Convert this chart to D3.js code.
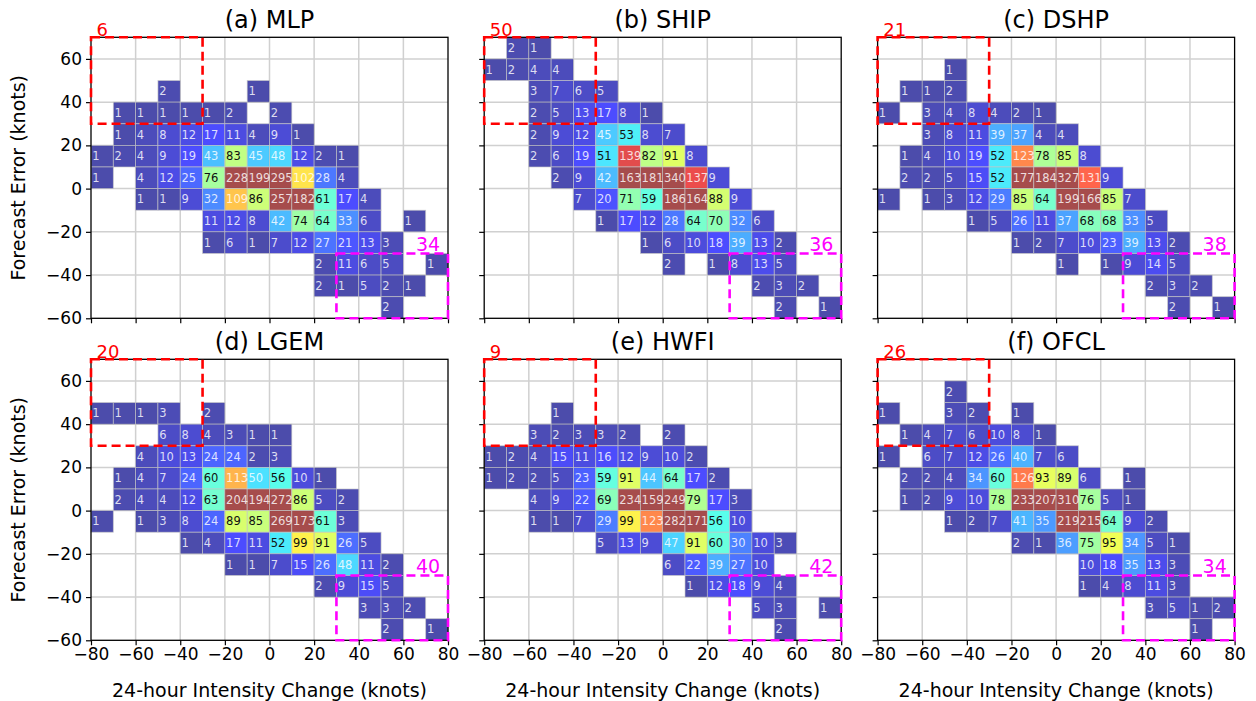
<!DOCTYPE html>
<html><head><meta charset="utf-8">
<script src="https://cdn.jsdelivr.net/npm/d3@7"></script>
<style>
html,body{margin:0;padding:0;background:#fff;}
svg{display:block;font-family:"DejaVu Sans",sans-serif;}
</style></head>
<body>
<svg id="chart" width="1256" height="701"></svg>
<script>
// ---------- DATA ----------
// each row: [y bin lower edge, x bin lower edge of first cell, counts (null = empty)]
const titles = ["(a) MLP", "(b) SHIP", "(c) DSHP", "(d) LGEM", "(e) HWFI", "(f) OFCL"];
const mlp = [
  [40, -50, [2, null, null, null, 1]],
  [30, -70, [1, 1, 1, 1, 1, 2, null, 2]],
  [20, -70, [1, 4, 8, 12, 17, 11, 4, 9, 1]],
  [10, -80, [1, 2, 4, 9, 19, 43, 83, 45, 48, 12, 2, 1]],
  [0, -80, [1, null, 4, 12, 25, 76, 228, 199, 295, 102, 28, 4]],
  [-10, -60, [1, 1, 9, 32, 109, 86, 257, 182, 61, 17, 4]],
  [-20, -30, [11, 12, 8, 42, 74, 64, 33, 6, null, 1]],
  [-30, -30, [1, 6, 1, 7, 12, 27, 21, 13, 3]],
  [-40, 20, [2, 11, 6, 5, null, 1]],
  [-50, 20, [2, 1, 5, 2, 1]],
  [-60, 50, [2]]
];
const ship = [
  [60, -70, [2, 1]],
  [50, -80, [1, 2, 4, 4]],
  [40, -60, [3, 7, 6, 5]],
  [30, -60, [2, 5, 13, 17, 8, 1]],
  [20, -60, [2, 9, 12, 45, 53, 8, 7]],
  [10, -60, [2, 6, 19, 51, 139, 82, 91, 8]],
  [0, -50, [2, 9, 42, 163, 181, 340, 137, 9]],
  [-10, -40, [7, 20, 71, 59, 186, 164, 88, 9]],
  [-20, -30, [1, 17, 12, 28, 64, 70, 32, 6]],
  [-30, -10, [1, 6, 10, 18, 39, 13, 2]],
  [-40, 0, [2, null, 1, 8, 13, 5]],
  [-50, 40, [2, 3, 2]],
  [-60, 50, [2, null, 1]]
];
const dshp = [
  [50, -50, [1]],
  [40, -70, [1, 1, 2]],
  [30, -80, [1, null, 3, 4, 8, 4, 2, 1]],
  [20, -60, [3, 8, 11, 39, 37, 4, 4]],
  [10, -70, [1, 4, 10, 19, 52, 123, 78, 85, 8]],
  [0, -70, [2, 2, 5, 15, 52, 177, 184, 327, 131, 9]],
  [-10, -80, [1, null, 1, 3, 12, 29, 85, 64, 199, 166, 85, 7]],
  [-20, -40, [1, 5, 26, 11, 37, 68, 68, 33, 5]],
  [-30, -20, [1, 2, 7, 10, 23, 39, 13, 2]],
  [-40, 0, [1, null, 1, 9, 14, 5]],
  [-50, 40, [2, 3, 2]],
  [-60, 50, [2, null, 1]]
];
const lgem = [
  [40, -80, [1, 1, 1, 3, null, 2]],
  [30, -50, [6, 8, 4, 3, 1, 1]],
  [20, -60, [4, 10, 13, 24, 24, 2, 3]],
  [10, -70, [1, 4, 7, 24, 60, 113, 50, 56, 10, 1]],
  [0, -70, [2, 4, 4, 12, 63, 204, 194, 272, 86, 5, 2]],
  [-10, -80, [1, null, 1, 3, 8, 24, 89, 85, 269, 173, 61, 3]],
  [-20, -40, [1, 4, 17, 11, 52, 99, 91, 26, 5]],
  [-30, -20, [1, 1, 7, 15, 26, 48, 11, 2]],
  [-40, 20, [2, 9, 15, 5]],
  [-50, 40, [3, 3, 2]],
  [-60, 50, [2, null, 1]]
];
const hwfi = [
  [40, -50, [1]],
  [30, -60, [3, 2, 3, 3, 2, null, 2]],
  [20, -80, [1, 2, 4, 15, 11, 16, 12, 9, 10, 2]],
  [10, -80, [1, 2, 2, 5, 23, 59, 91, 44, 64, 17, 2]],
  [0, -60, [4, 9, 22, 69, 234, 159, 249, 79, 17, 3]],
  [-10, -60, [1, 1, 7, 29, 99, 123, 282, 171, 56, 10]],
  [-20, -30, [5, 13, 9, 47, 91, 60, 30, 10, 3]],
  [-30, 0, [6, 22, 39, 27, 10]],
  [-40, 10, [1, 12, 18, 9, 4]],
  [-50, 40, [5, 3, null, 1]],
  [-60, 50, [2]]
];
const ofcl = [
  [50, -50, [2]],
  [40, -80, [1, null, null, 3, 2, null, 1]],
  [30, -70, [1, 4, 7, 6, 10, 8, 1]],
  [20, -80, [1, null, 6, 7, 12, 26, 40, 7, 6]],
  [10, -70, [2, 2, 4, 34, 60, 126, 93, 89, 6, null, 1]],
  [0, -70, [1, 2, 9, 10, 78, 233, 207, 310, 76, 5, 1]],
  [-10, -50, [1, 2, 7, 41, 35, 219, 215, 64, 9, 2]],
  [-20, -20, [2, 1, 36, 75, 95, 34, 5, 1]],
  [-30, 10, [10, 18, 35, 13, 3]],
  [-40, 10, [1, 4, 8, 11, 3]],
  [-50, 40, [3, 5, 1, 2]],
  [-60, 60, [1]]
];
const redCounts = [6, 50, 21, 20, 9, 26];
const magentaCounts = [34, 36, 38, 40, 42, 34];
const xTicks = [-80, -60, -40, -20, 0, 20, 40, 60, 80];
const yTicks = [-60, -40, -20, 0, 20, 40, 60];
const xLabel = "24-hour Intensity Change (knots)";
const yLabel = "Forecast Error (knots)";

// ---------- DRAW ----------
const datasets = [mlp, ship, dshp, lgem, hwfi, ofcl];
const svg = d3.select("#chart");
const lefts = [91, 484.2, 877.6], tops = [37.3, 359.3];
const pw = 357, ph = 281;
const x = d3.scaleLinear().domain([-80, 80]).range([0, pw]);
const y = d3.scaleLinear().domain([-60, 70]).range([ph, 0]);

// matplotlib jet
const jetR = [[0, 0], [0.35, 0], [0.66, 1], [0.89, 1], [1, 0.5]];
const jetG = [[0, 0], [0.125, 0], [0.375, 1], [0.64, 1], [0.91, 0], [1, 0]];
const jetB = [[0, 0.5], [0.11, 1], [0.34, 1], [0.65, 0], [1, 0]];
function seg(s, t) {
  for (let i = 1; i < s.length; i++) {
    if (t <= s[i][0]) {
      const a = s[i - 1], b = s[i];
      return a[1] + (b[1] - a[1]) * (t - a[0]) / (b[0] - a[0]);
    }
  }
  return s[s.length - 1][1];
}
const vmax = 150;
function jet(v) {
  const t = Math.max(0, Math.min(1, v / vmax));
  return d3.rgb(seg(jetR, t) * 255, seg(jetG, t) * 255, seg(jetB, t) * 255).toString();
}

datasets.forEach((rows, i) => {
  const col = i % 3, row = Math.floor(i / 3);
  const g = svg.append("g").attr("transform", `translate(${lefts[col]},${tops[row]})`);
  // grid
  g.append("g").selectAll("line.gx").data(xTicks.slice(1, -1)).join("line")
    .attr("x1", d => x(d)).attr("x2", d => x(d)).attr("y1", 0).attr("y2", ph)
    .attr("stroke", "#d0d0d0").attr("stroke-width", 1.5);
  g.append("g").selectAll("line.gy").data(yTicks.slice(1)).join("line")
    .attr("y1", d => y(d)).attr("y2", d => y(d)).attr("x1", 0).attr("x2", pw)
    .attr("stroke", "#d0d0d0").attr("stroke-width", 1.5);

  // cells
  const cells = [];
  rows.forEach(([yv, x0, vals]) => {
    vals.forEach((v, k) => { if (v !== null) cells.push({ x: x0 + 10 * k, y: yv, v }); });
  });
  const cg = g.append("g");
  cg.selectAll("rect").data(cells).join("rect")
    .attr("x", d => x(d.x)).attr("y", d => y(d.y + 10))
    .attr("width", d => x(d.x + 10) - x(d.x)).attr("height", d => y(d.y) - y(d.y + 10))
    .attr("fill", d => jet(d.v)).attr("fill-opacity", 0.7)
    .attr("stroke", "#c8c8c8").attr("stroke-width", 0.8).attr("stroke-opacity", 0.8);
  cg.selectAll("text").data(cells).join("text")
    .attr("x", d => x(d.x) + 1.2).attr("y", d => (y(d.y) + y(d.y + 10)) / 2)
    .attr("dominant-baseline", "central")
    .attr("font-size", "11.5px")
    .attr("fill", d => (d.v > 50 && d.v < 100) ? "#111" : "rgba(255,255,255,0.82)")
    .text(d => d.v);

  // axes
  const ax = d3.axisBottom(x).tickValues(xTicks).tickSize(5).tickPadding(3);
  if (row === 0) ax.tickFormat("");
  const xa = g.append("g").attr("transform", `translate(0,${ph})`).call(ax);
  const ay = d3.axisLeft(y).tickValues(yTicks).tickSize(5).tickPadding(4);
  if (col !== 0) ay.tickFormat("");
  const ya = g.append("g").call(ay);
  [xa, ya].forEach(a => {
    a.select(".domain").remove();
    a.selectAll(".tick line").attr("stroke", "#000").attr("stroke-width", 1.2);
    a.selectAll(".tick text").attr("font-size", "17px").attr("fill", "#000")
      .attr("font-family", "DejaVu Sans, sans-serif");
  });

  // frame
  g.append("rect").attr("x", 0).attr("y", 0).attr("width", pw).attr("height", ph)
    .attr("fill", "none").attr("stroke", "#000").attr("stroke-width", 1.3);

  // dashed boxes
  g.append("rect").attr("x", x(-80)).attr("y", y(70))
    .attr("width", x(-30) - x(-80)).attr("height", y(30) - y(70))
    .attr("fill", "none").attr("stroke", "#ff0000").attr("stroke-width", 2.6)
    .attr("stroke-dasharray", "9,5");
  g.append("rect").attr("x", x(30)).attr("y", y(-30))
    .attr("width", x(80) - x(30)).attr("height", y(-60) - y(-30))
    .attr("fill", "none").attr("stroke", "#ff00ff").attr("stroke-width", 2.6)
    .attr("stroke-dasharray", "9,5");
  g.append("text").attr("x", x(-77.5)).attr("y", y(70) - 1.5)
    .attr("font-size", "18px").attr("fill", "#ff0000").text(redCounts[i]);
  g.append("text").attr("x", x(76.5)).attr("y", y(-30) - 2)
    .attr("text-anchor", "end")
    .attr("font-size", "19px").attr("fill", "#ff00ff").text(magentaCounts[i]);

  // title
  g.append("text").attr("x", pw / 2).attr("y", -9).attr("text-anchor", "middle")
    .attr("font-size", "24px").attr("fill", "#000").text(titles[i]);

  if (row === 1) {
    g.append("text").attr("x", pw / 2).attr("y", ph + 57).attr("text-anchor", "middle")
      .attr("font-size", "19px").attr("fill", "#000").text(xLabel);
  }
  if (col === 0) {
    g.append("text").attr("transform", `translate(-66,${ph / 2}) rotate(-90)`)
      .attr("text-anchor", "middle").attr("font-size", "19px").attr("fill", "#000").text(yLabel);
  }
});
</script>
</body></html>
